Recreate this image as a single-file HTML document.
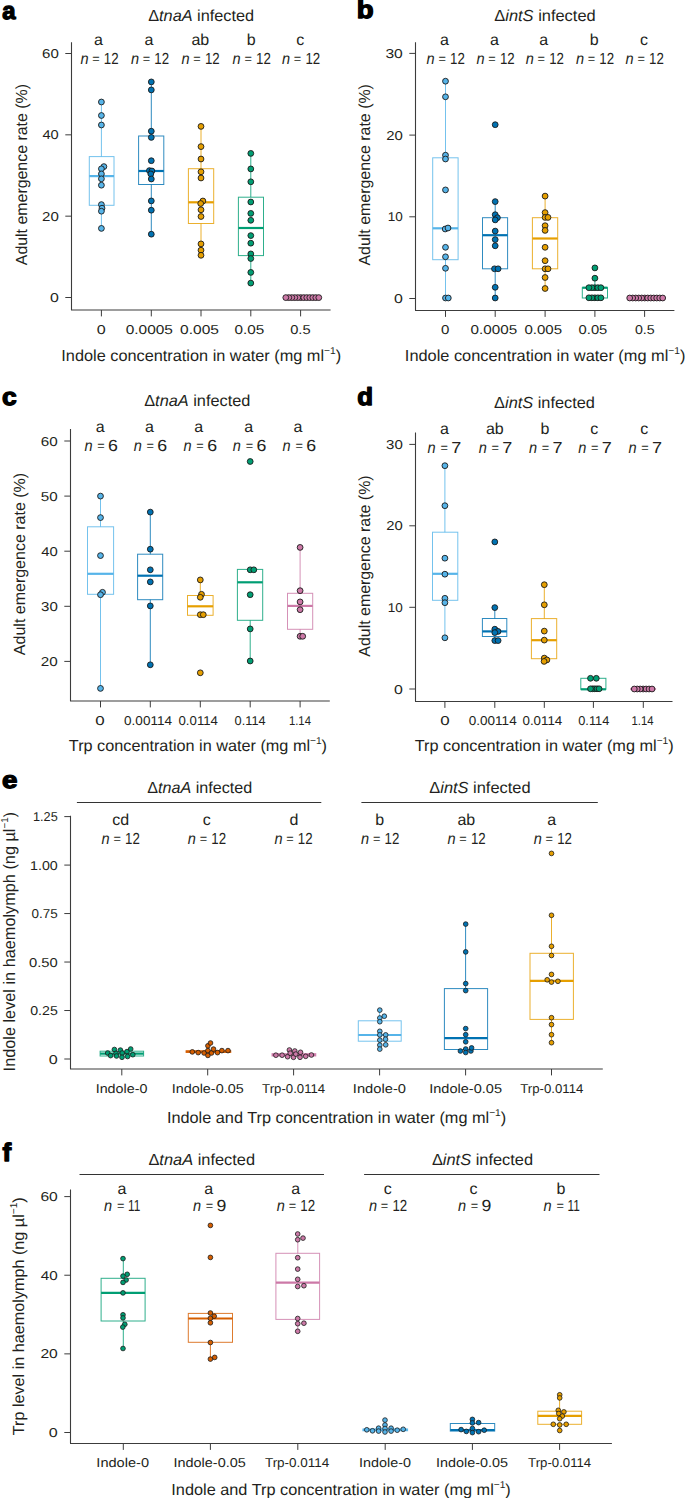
<!DOCTYPE html>
<html><head><meta charset="utf-8"><title>Figure</title>
<style>
html,body{margin:0;padding:0;background:#fff;}
body{width:685px;height:1498px;overflow:hidden;}
svg{display:block;font-family:"Liberation Sans", sans-serif;text-rendering:geometricPrecision;}

</style></head>
<body>
<svg width="685" height="1498" viewBox="0 0 685 1498" fill="#231f20">
<rect width="685" height="1498" fill="#fff"/>
<text x="2.15" y="18.51" font-size="24.28" font-weight="bold" fill="#000" stroke="#000" stroke-width="1.3" stroke-linejoin="round" textLength="13.25" lengthAdjust="spacingAndGlyphs">a</text>
<text x="148.21" y="20.60" font-size="16" textLength="105.93" lengthAdjust="spacingAndGlyphs">Δ<tspan font-style="italic">tnaA</tspan> infected</text>
<text x="94.11" y="44.90" font-size="16">a</text>
<text x="80.41" y="63.80" font-size="16" textLength="8.10" lengthAdjust="spacingAndGlyphs"><tspan font-style="italic">n</tspan></text>
<text x="92.23" y="62.95" font-size="12.8" textLength="7.45" lengthAdjust="spacingAndGlyphs">=</text>
<text x="103.84" y="63.80" font-size="16" textLength="14.78" lengthAdjust="spacingAndGlyphs">12</text>
<text x="144.41" y="44.90" font-size="16">a</text>
<text x="130.91" y="63.80" font-size="16" textLength="8.10" lengthAdjust="spacingAndGlyphs"><tspan font-style="italic">n</tspan></text>
<text x="142.73" y="62.95" font-size="12.8" textLength="7.45" lengthAdjust="spacingAndGlyphs">=</text>
<text x="154.34" y="63.80" font-size="16" textLength="14.78" lengthAdjust="spacingAndGlyphs">12</text>
<text x="191.40" y="44.90" font-size="16">ab</text>
<text x="181.51" y="63.80" font-size="16" textLength="8.10" lengthAdjust="spacingAndGlyphs"><tspan font-style="italic">n</tspan></text>
<text x="193.33" y="62.95" font-size="12.8" textLength="7.45" lengthAdjust="spacingAndGlyphs">=</text>
<text x="204.94" y="63.80" font-size="16" textLength="14.78" lengthAdjust="spacingAndGlyphs">12</text>
<text x="246.67" y="44.90" font-size="16">b</text>
<text x="232.61" y="63.80" font-size="16" textLength="8.10" lengthAdjust="spacingAndGlyphs"><tspan font-style="italic">n</tspan></text>
<text x="244.43" y="62.95" font-size="12.8" textLength="7.45" lengthAdjust="spacingAndGlyphs">=</text>
<text x="256.04" y="63.80" font-size="16" textLength="14.78" lengthAdjust="spacingAndGlyphs">12</text>
<text x="296.37" y="44.90" font-size="16">c</text>
<text x="282.01" y="63.80" font-size="16" textLength="8.10" lengthAdjust="spacingAndGlyphs"><tspan font-style="italic">n</tspan></text>
<text x="293.83" y="62.95" font-size="12.8" textLength="7.45" lengthAdjust="spacingAndGlyphs">=</text>
<text x="305.44" y="63.80" font-size="16" textLength="14.78" lengthAdjust="spacingAndGlyphs">12</text>
<path d="M71.50,42.20 V310.00 H330.60" fill="none" stroke="#3c3c3c" stroke-width="1.1" stroke-linejoin="round"/>
<line x1="65.30" y1="53.50" x2="71.50" y2="53.50" stroke="#3c3c3c" stroke-width="1.0"/>
<text x="42.04" y="58.00" font-size="12.9" textLength="16.75" lengthAdjust="spacingAndGlyphs">60</text>
<line x1="65.30" y1="134.83" x2="71.50" y2="134.83" stroke="#3c3c3c" stroke-width="1.0"/>
<text x="42.46" y="139.33" font-size="12.9" textLength="16.31" lengthAdjust="spacingAndGlyphs">40</text>
<line x1="65.30" y1="216.17" x2="71.50" y2="216.17" stroke="#3c3c3c" stroke-width="1.0"/>
<text x="42.04" y="220.67" font-size="12.9" textLength="16.75" lengthAdjust="spacingAndGlyphs">20</text>
<line x1="65.30" y1="297.50" x2="71.50" y2="297.50" stroke="#3c3c3c" stroke-width="1.0"/>
<text x="49.98" y="302.00" font-size="12.9" textLength="8.84" lengthAdjust="spacingAndGlyphs">0</text>
<line x1="101.40" y1="310.00" x2="101.40" y2="316.40" stroke="#3c3c3c" stroke-width="1.0"/>
<text x="96.77" y="334.00" font-size="12.9" textLength="8.96" lengthAdjust="spacingAndGlyphs">0</text>
<line x1="151.30" y1="310.00" x2="151.30" y2="316.40" stroke="#3c3c3c" stroke-width="1.0"/>
<text x="125.70" y="334.00" font-size="12.9" textLength="47.25" lengthAdjust="spacingAndGlyphs">0.0005</text>
<line x1="201.00" y1="310.00" x2="201.00" y2="316.40" stroke="#3c3c3c" stroke-width="1.0"/>
<text x="180.09" y="334.00" font-size="12.9" textLength="38.86" lengthAdjust="spacingAndGlyphs">0.005</text>
<line x1="250.80" y1="310.00" x2="250.80" y2="316.40" stroke="#3c3c3c" stroke-width="1.0"/>
<text x="234.50" y="334.00" font-size="12.9" textLength="29.74" lengthAdjust="spacingAndGlyphs">0.05</text>
<line x1="300.60" y1="310.00" x2="300.60" y2="316.40" stroke="#3c3c3c" stroke-width="1.0"/>
<text x="290.23" y="334.00" font-size="12.9" textLength="20.39" lengthAdjust="spacingAndGlyphs">0.5</text>
<text x="61.30" y="361.20" font-size="16" textLength="279.82" lengthAdjust="spacingAndGlyphs">Indole concentration in water (mg ml<tspan font-size="10" dy="-6.90">−1</tspan><tspan dy="6.90">)</tspan></text>
<text transform="translate(27.10,0) rotate(-90)" x="-265.23" y="0" font-size="16" textLength="181.22" lengthAdjust="spacingAndGlyphs">Adult emergence rate (%)</text>
<g stroke="#56B4E9" fill="none" stroke-opacity="0.82">
<line x1="101.40" y1="102.00" x2="101.40" y2="156.60" stroke-width="1.0"/>
<line x1="101.40" y1="205.30" x2="101.40" y2="228.40" stroke-width="1.0"/>
<rect x="89.30" y="156.60" width="24.70" height="48.70" stroke-width="1.0"/>
</g>
<line x1="89.30" y1="176.10" x2="114.00" y2="176.10" stroke="#56B4E9" stroke-width="2.2"/>
<circle cx="101.40" cy="102.00" r="2.9" fill="#56B4E9" stroke="#1a1a1a" stroke-width="0.9"/>
<circle cx="101.40" cy="115.50" r="2.9" fill="#56B4E9" stroke="#1a1a1a" stroke-width="0.9"/>
<circle cx="101.40" cy="125.00" r="2.9" fill="#56B4E9" stroke="#1a1a1a" stroke-width="0.9"/>
<circle cx="103.90" cy="166.60" r="2.9" fill="#56B4E9" stroke="#1a1a1a" stroke-width="0.9"/>
<circle cx="101.40" cy="168.80" r="2.9" fill="#56B4E9" stroke="#1a1a1a" stroke-width="0.9"/>
<circle cx="101.40" cy="173.90" r="2.9" fill="#56B4E9" stroke="#1a1a1a" stroke-width="0.9"/>
<circle cx="101.40" cy="178.80" r="2.9" fill="#56B4E9" stroke="#1a1a1a" stroke-width="0.9"/>
<circle cx="101.40" cy="185.20" r="2.9" fill="#56B4E9" stroke="#1a1a1a" stroke-width="0.9"/>
<circle cx="101.40" cy="204.60" r="2.9" fill="#56B4E9" stroke="#1a1a1a" stroke-width="0.9"/>
<circle cx="102.00" cy="208.20" r="2.9" fill="#56B4E9" stroke="#1a1a1a" stroke-width="0.9"/>
<circle cx="101.40" cy="211.20" r="2.9" fill="#56B4E9" stroke="#1a1a1a" stroke-width="0.9"/>
<circle cx="101.40" cy="228.40" r="2.9" fill="#56B4E9" stroke="#1a1a1a" stroke-width="0.9"/>
<g stroke="#0072B2" fill="none" stroke-opacity="0.82">
<line x1="151.30" y1="81.90" x2="151.30" y2="136.00" stroke-width="1.0"/>
<line x1="151.30" y1="184.50" x2="151.30" y2="234.20" stroke-width="1.0"/>
<rect x="138.60" y="136.00" width="25.20" height="48.50" stroke-width="1.0"/>
</g>
<line x1="138.60" y1="171.00" x2="163.80" y2="171.00" stroke="#0072B2" stroke-width="2.2"/>
<circle cx="151.30" cy="81.90" r="2.9" fill="#0072B2" stroke="#1a1a1a" stroke-width="0.9"/>
<circle cx="151.30" cy="89.90" r="2.9" fill="#0072B2" stroke="#1a1a1a" stroke-width="0.9"/>
<circle cx="151.30" cy="131.20" r="2.9" fill="#0072B2" stroke="#1a1a1a" stroke-width="0.9"/>
<circle cx="151.30" cy="137.40" r="2.9" fill="#0072B2" stroke="#1a1a1a" stroke-width="0.9"/>
<circle cx="151.30" cy="160.70" r="2.9" fill="#0072B2" stroke="#1a1a1a" stroke-width="0.9"/>
<circle cx="149.40" cy="170.60" r="2.9" fill="#0072B2" stroke="#1a1a1a" stroke-width="0.9"/>
<circle cx="151.90" cy="171.00" r="2.9" fill="#0072B2" stroke="#1a1a1a" stroke-width="0.9"/>
<circle cx="150.80" cy="173.90" r="2.9" fill="#0072B2" stroke="#1a1a1a" stroke-width="0.9"/>
<circle cx="151.30" cy="179.00" r="2.9" fill="#0072B2" stroke="#1a1a1a" stroke-width="0.9"/>
<circle cx="151.30" cy="200.90" r="2.9" fill="#0072B2" stroke="#1a1a1a" stroke-width="0.9"/>
<circle cx="151.30" cy="210.20" r="2.9" fill="#0072B2" stroke="#1a1a1a" stroke-width="0.9"/>
<circle cx="151.30" cy="234.20" r="2.9" fill="#0072B2" stroke="#1a1a1a" stroke-width="0.9"/>
<g stroke="#E69F00" fill="none" stroke-opacity="0.82">
<line x1="201.00" y1="126.40" x2="201.00" y2="168.70" stroke-width="1.0"/>
<line x1="201.00" y1="223.50" x2="201.00" y2="255.30" stroke-width="1.0"/>
<rect x="188.40" y="168.70" width="25.30" height="54.80" stroke-width="1.0"/>
</g>
<line x1="188.40" y1="202.30" x2="213.70" y2="202.30" stroke="#E69F00" stroke-width="2.2"/>
<circle cx="201.00" cy="126.40" r="2.9" fill="#E69F00" stroke="#1a1a1a" stroke-width="0.9"/>
<circle cx="201.00" cy="146.60" r="2.9" fill="#E69F00" stroke="#1a1a1a" stroke-width="0.9"/>
<circle cx="201.00" cy="159.00" r="2.9" fill="#E69F00" stroke="#1a1a1a" stroke-width="0.9"/>
<circle cx="201.00" cy="171.80" r="2.9" fill="#E69F00" stroke="#1a1a1a" stroke-width="0.9"/>
<circle cx="201.00" cy="178.00" r="2.9" fill="#E69F00" stroke="#1a1a1a" stroke-width="0.9"/>
<circle cx="202.90" cy="201.00" r="2.9" fill="#E69F00" stroke="#1a1a1a" stroke-width="0.9"/>
<circle cx="200.70" cy="203.50" r="2.9" fill="#E69F00" stroke="#1a1a1a" stroke-width="0.9"/>
<circle cx="201.00" cy="209.80" r="2.9" fill="#E69F00" stroke="#1a1a1a" stroke-width="0.9"/>
<circle cx="201.00" cy="216.50" r="2.9" fill="#E69F00" stroke="#1a1a1a" stroke-width="0.9"/>
<circle cx="201.00" cy="243.90" r="2.9" fill="#E69F00" stroke="#1a1a1a" stroke-width="0.9"/>
<circle cx="201.00" cy="250.20" r="2.9" fill="#E69F00" stroke="#1a1a1a" stroke-width="0.9"/>
<circle cx="201.00" cy="255.30" r="2.9" fill="#E69F00" stroke="#1a1a1a" stroke-width="0.9"/>
<g stroke="#009E73" fill="none" stroke-opacity="0.82">
<line x1="250.80" y1="153.40" x2="250.80" y2="197.20" stroke-width="1.0"/>
<line x1="250.80" y1="255.60" x2="250.80" y2="283.10" stroke-width="1.0"/>
<rect x="238.40" y="197.20" width="25.10" height="58.40" stroke-width="1.0"/>
</g>
<line x1="238.40" y1="228.00" x2="263.50" y2="228.00" stroke="#009E73" stroke-width="2.2"/>
<circle cx="250.80" cy="153.40" r="2.9" fill="#009E73" stroke="#1a1a1a" stroke-width="0.9"/>
<circle cx="250.80" cy="168.90" r="2.9" fill="#009E73" stroke="#1a1a1a" stroke-width="0.9"/>
<circle cx="250.80" cy="181.80" r="2.9" fill="#009E73" stroke="#1a1a1a" stroke-width="0.9"/>
<circle cx="250.80" cy="202.00" r="2.9" fill="#009E73" stroke="#1a1a1a" stroke-width="0.9"/>
<circle cx="250.80" cy="213.40" r="2.9" fill="#009E73" stroke="#1a1a1a" stroke-width="0.9"/>
<circle cx="250.80" cy="220.30" r="2.9" fill="#009E73" stroke="#1a1a1a" stroke-width="0.9"/>
<circle cx="250.80" cy="235.60" r="2.9" fill="#009E73" stroke="#1a1a1a" stroke-width="0.9"/>
<circle cx="250.80" cy="243.20" r="2.9" fill="#009E73" stroke="#1a1a1a" stroke-width="0.9"/>
<circle cx="250.80" cy="253.90" r="2.9" fill="#009E73" stroke="#1a1a1a" stroke-width="0.9"/>
<circle cx="250.80" cy="258.50" r="2.9" fill="#009E73" stroke="#1a1a1a" stroke-width="0.9"/>
<circle cx="250.80" cy="272.40" r="2.9" fill="#009E73" stroke="#1a1a1a" stroke-width="0.9"/>
<circle cx="250.80" cy="283.10" r="2.9" fill="#009E73" stroke="#1a1a1a" stroke-width="0.9"/>
<g stroke="#CC79A7" fill="none" stroke-opacity="0.82">
<rect x="288.00" y="297.60" width="25.20" height="0.01" stroke-width="1.0"/>
</g>
<line x1="288.00" y1="297.60" x2="313.20" y2="297.60" stroke="#CC79A7" stroke-width="2.2"/>
<circle cx="300.80" cy="297.60" r="2.9" fill="#CC79A7" stroke="#1a1a1a" stroke-width="0.9"/>
<circle cx="297.80" cy="297.60" r="2.9" fill="#CC79A7" stroke="#1a1a1a" stroke-width="0.9"/>
<circle cx="303.80" cy="297.60" r="2.9" fill="#CC79A7" stroke="#1a1a1a" stroke-width="0.9"/>
<circle cx="294.80" cy="297.60" r="2.9" fill="#CC79A7" stroke="#1a1a1a" stroke-width="0.9"/>
<circle cx="306.80" cy="297.60" r="2.9" fill="#CC79A7" stroke="#1a1a1a" stroke-width="0.9"/>
<circle cx="291.80" cy="297.60" r="2.9" fill="#CC79A7" stroke="#1a1a1a" stroke-width="0.9"/>
<circle cx="309.80" cy="297.60" r="2.9" fill="#CC79A7" stroke="#1a1a1a" stroke-width="0.9"/>
<circle cx="288.80" cy="297.60" r="2.9" fill="#CC79A7" stroke="#1a1a1a" stroke-width="0.9"/>
<circle cx="312.80" cy="297.60" r="2.9" fill="#CC79A7" stroke="#1a1a1a" stroke-width="0.9"/>
<circle cx="285.80" cy="297.60" r="2.9" fill="#CC79A7" stroke="#1a1a1a" stroke-width="0.9"/>
<circle cx="315.80" cy="297.60" r="2.9" fill="#CC79A7" stroke="#1a1a1a" stroke-width="0.9"/>
<circle cx="318.80" cy="297.60" r="2.9" fill="#CC79A7" stroke="#1a1a1a" stroke-width="0.9"/>
<text x="356.73" y="18.41" font-size="24.78" font-weight="bold" fill="#000" stroke="#000" stroke-width="1.3" stroke-linejoin="round" textLength="16.85" lengthAdjust="spacingAndGlyphs">b</text>
<text x="494.31" y="20.70" font-size="16" textLength="101.35" lengthAdjust="spacingAndGlyphs">Δ<tspan font-style="italic">intS</tspan> infected</text>
<text x="440.01" y="44.90" font-size="16">a</text>
<text x="426.61" y="63.80" font-size="16" textLength="8.10" lengthAdjust="spacingAndGlyphs"><tspan font-style="italic">n</tspan></text>
<text x="438.43" y="62.95" font-size="12.8" textLength="7.45" lengthAdjust="spacingAndGlyphs">=</text>
<text x="450.04" y="63.80" font-size="16" textLength="14.78" lengthAdjust="spacingAndGlyphs">12</text>
<text x="490.01" y="44.90" font-size="16">a</text>
<text x="476.51" y="63.80" font-size="16" textLength="8.10" lengthAdjust="spacingAndGlyphs"><tspan font-style="italic">n</tspan></text>
<text x="488.33" y="62.95" font-size="12.8" textLength="7.45" lengthAdjust="spacingAndGlyphs">=</text>
<text x="499.94" y="63.80" font-size="16" textLength="14.78" lengthAdjust="spacingAndGlyphs">12</text>
<text x="539.31" y="44.90" font-size="16">a</text>
<text x="525.71" y="63.80" font-size="16" textLength="8.10" lengthAdjust="spacingAndGlyphs"><tspan font-style="italic">n</tspan></text>
<text x="537.53" y="62.95" font-size="12.8" textLength="7.45" lengthAdjust="spacingAndGlyphs">=</text>
<text x="549.14" y="63.80" font-size="16" textLength="14.78" lengthAdjust="spacingAndGlyphs">12</text>
<text x="589.87" y="44.90" font-size="16">b</text>
<text x="575.91" y="63.80" font-size="16" textLength="8.10" lengthAdjust="spacingAndGlyphs"><tspan font-style="italic">n</tspan></text>
<text x="587.73" y="62.95" font-size="12.8" textLength="7.45" lengthAdjust="spacingAndGlyphs">=</text>
<text x="599.34" y="63.80" font-size="16" textLength="14.78" lengthAdjust="spacingAndGlyphs">12</text>
<text x="639.97" y="44.90" font-size="16">c</text>
<text x="625.61" y="63.80" font-size="16" textLength="8.10" lengthAdjust="spacingAndGlyphs"><tspan font-style="italic">n</tspan></text>
<text x="637.43" y="62.95" font-size="12.8" textLength="7.45" lengthAdjust="spacingAndGlyphs">=</text>
<text x="649.04" y="63.80" font-size="16" textLength="14.78" lengthAdjust="spacingAndGlyphs">12</text>
<path d="M415.50,42.20 V310.50 H674.40" fill="none" stroke="#3c3c3c" stroke-width="1.1" stroke-linejoin="round"/>
<line x1="409.30" y1="53.40" x2="415.50" y2="53.40" stroke="#3c3c3c" stroke-width="1.0"/>
<text x="385.40" y="57.90" font-size="12.9" textLength="17.41" lengthAdjust="spacingAndGlyphs">30</text>
<line x1="409.30" y1="135.10" x2="415.50" y2="135.10" stroke="#3c3c3c" stroke-width="1.0"/>
<text x="386.15" y="139.60" font-size="12.9" textLength="16.64" lengthAdjust="spacingAndGlyphs">20</text>
<line x1="409.30" y1="216.80" x2="415.50" y2="216.80" stroke="#3c3c3c" stroke-width="1.0"/>
<text x="387.67" y="221.30" font-size="12.9" textLength="15.06" lengthAdjust="spacingAndGlyphs">10</text>
<line x1="409.30" y1="298.50" x2="415.50" y2="298.50" stroke="#3c3c3c" stroke-width="1.0"/>
<text x="393.98" y="303.00" font-size="12.9" textLength="8.84" lengthAdjust="spacingAndGlyphs">0</text>
<line x1="445.50" y1="310.50" x2="445.50" y2="316.90" stroke="#3c3c3c" stroke-width="1.0"/>
<text x="441.01" y="334.00" font-size="12.9" textLength="8.38" lengthAdjust="spacingAndGlyphs">0</text>
<line x1="495.20" y1="310.50" x2="495.20" y2="316.90" stroke="#3c3c3c" stroke-width="1.0"/>
<text x="470.61" y="334.00" font-size="12.9" textLength="46.53" lengthAdjust="spacingAndGlyphs">0.0005</text>
<line x1="545.10" y1="310.50" x2="545.10" y2="316.90" stroke="#3c3c3c" stroke-width="1.0"/>
<text x="524.41" y="334.00" font-size="12.9" textLength="37.62" lengthAdjust="spacingAndGlyphs">0.005</text>
<line x1="594.90" y1="310.50" x2="594.90" y2="316.90" stroke="#3c3c3c" stroke-width="1.0"/>
<text x="578.62" y="334.00" font-size="12.9" textLength="28.70" lengthAdjust="spacingAndGlyphs">0.05</text>
<line x1="644.60" y1="310.50" x2="644.60" y2="316.90" stroke="#3c3c3c" stroke-width="1.0"/>
<text x="634.94" y="334.00" font-size="12.9" textLength="19.75" lengthAdjust="spacingAndGlyphs">0.5</text>
<text x="404.89" y="361.20" font-size="16" textLength="280.52" lengthAdjust="spacingAndGlyphs">Indole concentration in water (mg ml<tspan font-size="10" dy="-6.90">−1</tspan><tspan dy="6.90">)</tspan></text>
<text transform="translate(370.20,0) rotate(-90)" x="-265.53" y="0" font-size="16" textLength="181.42" lengthAdjust="spacingAndGlyphs">Adult emergence rate (%)</text>
<g stroke="#56B4E9" fill="none" stroke-opacity="0.82">
<line x1="445.50" y1="81.20" x2="445.50" y2="157.80" stroke-width="1.0"/>
<line x1="445.50" y1="259.70" x2="445.50" y2="298.00" stroke-width="1.0"/>
<rect x="432.70" y="157.80" width="25.40" height="101.90" stroke-width="1.0"/>
</g>
<line x1="432.70" y1="228.30" x2="458.10" y2="228.30" stroke="#56B4E9" stroke-width="2.2"/>
<circle cx="445.50" cy="81.20" r="2.9" fill="#56B4E9" stroke="#1a1a1a" stroke-width="0.9"/>
<circle cx="445.50" cy="96.80" r="2.9" fill="#56B4E9" stroke="#1a1a1a" stroke-width="0.9"/>
<circle cx="445.50" cy="155.20" r="2.9" fill="#56B4E9" stroke="#1a1a1a" stroke-width="0.9"/>
<circle cx="445.50" cy="159.00" r="2.9" fill="#56B4E9" stroke="#1a1a1a" stroke-width="0.9"/>
<circle cx="445.50" cy="189.90" r="2.9" fill="#56B4E9" stroke="#1a1a1a" stroke-width="0.9"/>
<circle cx="445.20" cy="229.00" r="2.9" fill="#56B4E9" stroke="#1a1a1a" stroke-width="0.9"/>
<circle cx="448.00" cy="228.00" r="2.9" fill="#56B4E9" stroke="#1a1a1a" stroke-width="0.9"/>
<circle cx="445.50" cy="247.30" r="2.9" fill="#56B4E9" stroke="#1a1a1a" stroke-width="0.9"/>
<circle cx="445.50" cy="256.80" r="2.9" fill="#56B4E9" stroke="#1a1a1a" stroke-width="0.9"/>
<circle cx="445.50" cy="268.30" r="2.9" fill="#56B4E9" stroke="#1a1a1a" stroke-width="0.9"/>
<circle cx="445.50" cy="298.00" r="2.9" fill="#56B4E9" stroke="#1a1a1a" stroke-width="0.9"/>
<circle cx="448.30" cy="298.00" r="2.9" fill="#56B4E9" stroke="#1a1a1a" stroke-width="0.9"/>
<g stroke="#0072B2" fill="none" stroke-opacity="0.82">
<line x1="495.20" y1="201.60" x2="495.20" y2="217.70" stroke-width="1.0"/>
<line x1="495.20" y1="268.80" x2="495.20" y2="298.00" stroke-width="1.0"/>
<rect x="482.50" y="217.70" width="25.10" height="51.10" stroke-width="1.0"/>
</g>
<line x1="482.50" y1="235.20" x2="507.60" y2="235.20" stroke="#0072B2" stroke-width="2.2"/>
<circle cx="495.20" cy="124.70" r="2.9" fill="#0072B2" stroke="#1a1a1a" stroke-width="0.9"/>
<circle cx="495.20" cy="201.60" r="2.9" fill="#0072B2" stroke="#1a1a1a" stroke-width="0.9"/>
<circle cx="495.20" cy="214.70" r="2.9" fill="#0072B2" stroke="#1a1a1a" stroke-width="0.9"/>
<circle cx="497.40" cy="217.70" r="2.9" fill="#0072B2" stroke="#1a1a1a" stroke-width="0.9"/>
<circle cx="495.20" cy="219.90" r="2.9" fill="#0072B2" stroke="#1a1a1a" stroke-width="0.9"/>
<circle cx="495.20" cy="231.10" r="2.9" fill="#0072B2" stroke="#1a1a1a" stroke-width="0.9"/>
<circle cx="495.20" cy="239.60" r="2.9" fill="#0072B2" stroke="#1a1a1a" stroke-width="0.9"/>
<circle cx="495.20" cy="245.80" r="2.9" fill="#0072B2" stroke="#1a1a1a" stroke-width="0.9"/>
<circle cx="494.50" cy="268.80" r="2.9" fill="#0072B2" stroke="#1a1a1a" stroke-width="0.9"/>
<circle cx="498.10" cy="268.80" r="2.9" fill="#0072B2" stroke="#1a1a1a" stroke-width="0.9"/>
<circle cx="495.20" cy="287.30" r="2.9" fill="#0072B2" stroke="#1a1a1a" stroke-width="0.9"/>
<circle cx="495.20" cy="298.00" r="2.9" fill="#0072B2" stroke="#1a1a1a" stroke-width="0.9"/>
<g stroke="#E69F00" fill="none" stroke-opacity="0.82">
<line x1="545.10" y1="196.10" x2="545.10" y2="217.70" stroke-width="1.0"/>
<line x1="545.10" y1="268.80" x2="545.10" y2="288.50" stroke-width="1.0"/>
<rect x="532.40" y="217.70" width="25.30" height="51.10" stroke-width="1.0"/>
</g>
<line x1="532.40" y1="238.50" x2="557.70" y2="238.50" stroke="#E69F00" stroke-width="2.2"/>
<circle cx="545.10" cy="196.10" r="2.9" fill="#E69F00" stroke="#1a1a1a" stroke-width="0.9"/>
<circle cx="545.10" cy="212.60" r="2.9" fill="#E69F00" stroke="#1a1a1a" stroke-width="0.9"/>
<circle cx="545.10" cy="217.40" r="2.9" fill="#E69F00" stroke="#1a1a1a" stroke-width="0.9"/>
<circle cx="548.00" cy="217.40" r="2.9" fill="#E69F00" stroke="#1a1a1a" stroke-width="0.9"/>
<circle cx="545.10" cy="225.70" r="2.9" fill="#E69F00" stroke="#1a1a1a" stroke-width="0.9"/>
<circle cx="545.10" cy="230.40" r="2.9" fill="#E69F00" stroke="#1a1a1a" stroke-width="0.9"/>
<circle cx="545.10" cy="247.30" r="2.9" fill="#E69F00" stroke="#1a1a1a" stroke-width="0.9"/>
<circle cx="545.10" cy="260.70" r="2.9" fill="#E69F00" stroke="#1a1a1a" stroke-width="0.9"/>
<circle cx="545.10" cy="268.80" r="2.9" fill="#E69F00" stroke="#1a1a1a" stroke-width="0.9"/>
<circle cx="548.00" cy="268.80" r="2.9" fill="#E69F00" stroke="#1a1a1a" stroke-width="0.9"/>
<circle cx="545.10" cy="277.50" r="2.9" fill="#E69F00" stroke="#1a1a1a" stroke-width="0.9"/>
<circle cx="545.10" cy="288.50" r="2.9" fill="#E69F00" stroke="#1a1a1a" stroke-width="0.9"/>
<g stroke="#009E73" fill="none" stroke-opacity="0.82">
<line x1="594.90" y1="278.20" x2="594.90" y2="287.70" stroke-width="1.0"/>
<rect x="582.30" y="287.70" width="25.20" height="10.30" stroke-width="1.0"/>
</g>
<line x1="582.30" y1="287.70" x2="607.50" y2="287.70" stroke="#009E73" stroke-width="2.2"/>
<circle cx="594.90" cy="267.90" r="2.9" fill="#009E73" stroke="#1a1a1a" stroke-width="0.9"/>
<circle cx="594.90" cy="278.20" r="2.9" fill="#009E73" stroke="#1a1a1a" stroke-width="0.9"/>
<circle cx="594.90" cy="297.80" r="2.9" fill="#009E73" stroke="#1a1a1a" stroke-width="0.9"/>
<circle cx="591.90" cy="297.80" r="2.9" fill="#009E73" stroke="#1a1a1a" stroke-width="0.9"/>
<circle cx="597.90" cy="297.80" r="2.9" fill="#009E73" stroke="#1a1a1a" stroke-width="0.9"/>
<circle cx="588.90" cy="297.80" r="2.9" fill="#009E73" stroke="#1a1a1a" stroke-width="0.9"/>
<circle cx="600.90" cy="297.80" r="2.9" fill="#009E73" stroke="#1a1a1a" stroke-width="0.9"/>
<circle cx="594.90" cy="287.70" r="2.9" fill="#009E73" stroke="#1a1a1a" stroke-width="0.9"/>
<circle cx="591.90" cy="287.70" r="2.9" fill="#009E73" stroke="#1a1a1a" stroke-width="0.9"/>
<circle cx="597.90" cy="287.70" r="2.9" fill="#009E73" stroke="#1a1a1a" stroke-width="0.9"/>
<circle cx="588.90" cy="287.70" r="2.9" fill="#009E73" stroke="#1a1a1a" stroke-width="0.9"/>
<circle cx="600.90" cy="287.70" r="2.9" fill="#009E73" stroke="#1a1a1a" stroke-width="0.9"/>
<g stroke="#CC79A7" fill="none" stroke-opacity="0.82">
<rect x="632.00" y="298.00" width="25.20" height="0.01" stroke-width="1.0"/>
</g>
<line x1="632.00" y1="298.00" x2="657.20" y2="298.00" stroke="#CC79A7" stroke-width="2.2"/>
<circle cx="644.70" cy="298.00" r="2.9" fill="#CC79A7" stroke="#1a1a1a" stroke-width="0.9"/>
<circle cx="641.70" cy="298.00" r="2.9" fill="#CC79A7" stroke="#1a1a1a" stroke-width="0.9"/>
<circle cx="647.70" cy="298.00" r="2.9" fill="#CC79A7" stroke="#1a1a1a" stroke-width="0.9"/>
<circle cx="638.70" cy="298.00" r="2.9" fill="#CC79A7" stroke="#1a1a1a" stroke-width="0.9"/>
<circle cx="650.70" cy="298.00" r="2.9" fill="#CC79A7" stroke="#1a1a1a" stroke-width="0.9"/>
<circle cx="635.70" cy="298.00" r="2.9" fill="#CC79A7" stroke="#1a1a1a" stroke-width="0.9"/>
<circle cx="653.70" cy="298.00" r="2.9" fill="#CC79A7" stroke="#1a1a1a" stroke-width="0.9"/>
<circle cx="632.70" cy="298.00" r="2.9" fill="#CC79A7" stroke="#1a1a1a" stroke-width="0.9"/>
<circle cx="656.70" cy="298.00" r="2.9" fill="#CC79A7" stroke="#1a1a1a" stroke-width="0.9"/>
<circle cx="629.70" cy="298.00" r="2.9" fill="#CC79A7" stroke="#1a1a1a" stroke-width="0.9"/>
<circle cx="659.70" cy="298.00" r="2.9" fill="#CC79A7" stroke="#1a1a1a" stroke-width="0.9"/>
<circle cx="662.70" cy="298.00" r="2.9" fill="#CC79A7" stroke="#1a1a1a" stroke-width="0.9"/>
<text x="2.02" y="404.71" font-size="24.46" font-weight="bold" fill="#000" stroke="#000" stroke-width="1.3" stroke-linejoin="round" textLength="14.71" lengthAdjust="spacingAndGlyphs">c</text>
<text x="144.21" y="406.10" font-size="16" textLength="106.14" lengthAdjust="spacingAndGlyphs">Δ<tspan font-style="italic">tnaA</tspan> infected</text>
<text x="95.71" y="432.00" font-size="16">a</text>
<text x="84.41" y="450.70" font-size="16" textLength="8.10" lengthAdjust="spacingAndGlyphs"><tspan font-style="italic">n</tspan></text>
<text x="97.23" y="449.85" font-size="12.8" textLength="7.45" lengthAdjust="spacingAndGlyphs">=</text>
<text x="108.05" y="450.70" font-size="16" textLength="9.88" lengthAdjust="spacingAndGlyphs">6</text>
<text x="145.01" y="432.00" font-size="16">a</text>
<text x="133.71" y="450.70" font-size="16" textLength="8.10" lengthAdjust="spacingAndGlyphs"><tspan font-style="italic">n</tspan></text>
<text x="146.53" y="449.85" font-size="12.8" textLength="7.45" lengthAdjust="spacingAndGlyphs">=</text>
<text x="157.35" y="450.70" font-size="16" textLength="9.88" lengthAdjust="spacingAndGlyphs">6</text>
<text x="194.31" y="432.00" font-size="16">a</text>
<text x="183.51" y="450.70" font-size="16" textLength="8.10" lengthAdjust="spacingAndGlyphs"><tspan font-style="italic">n</tspan></text>
<text x="196.33" y="449.85" font-size="12.8" textLength="7.45" lengthAdjust="spacingAndGlyphs">=</text>
<text x="207.15" y="450.70" font-size="16" textLength="9.88" lengthAdjust="spacingAndGlyphs">6</text>
<text x="244.31" y="432.00" font-size="16">a</text>
<text x="232.81" y="450.70" font-size="16" textLength="8.10" lengthAdjust="spacingAndGlyphs"><tspan font-style="italic">n</tspan></text>
<text x="245.63" y="449.85" font-size="12.8" textLength="7.45" lengthAdjust="spacingAndGlyphs">=</text>
<text x="256.45" y="450.70" font-size="16" textLength="9.88" lengthAdjust="spacingAndGlyphs">6</text>
<text x="293.61" y="432.00" font-size="16">a</text>
<text x="282.61" y="450.70" font-size="16" textLength="8.10" lengthAdjust="spacingAndGlyphs"><tspan font-style="italic">n</tspan></text>
<text x="295.43" y="449.85" font-size="12.8" textLength="7.45" lengthAdjust="spacingAndGlyphs">=</text>
<text x="306.25" y="450.70" font-size="16" textLength="9.88" lengthAdjust="spacingAndGlyphs">6</text>
<path d="M70.50,429.00 V701.00 H329.80" fill="none" stroke="#3c3c3c" stroke-width="1.1" stroke-linejoin="round"/>
<line x1="64.30" y1="441.00" x2="70.50" y2="441.00" stroke="#3c3c3c" stroke-width="1.0"/>
<text x="40.83" y="445.50" font-size="12.9" textLength="16.97" lengthAdjust="spacingAndGlyphs">60</text>
<line x1="64.30" y1="496.10" x2="70.50" y2="496.10" stroke="#3c3c3c" stroke-width="1.0"/>
<text x="40.89" y="500.60" font-size="12.9" textLength="16.90" lengthAdjust="spacingAndGlyphs">50</text>
<line x1="64.30" y1="551.20" x2="70.50" y2="551.20" stroke="#3c3c3c" stroke-width="1.0"/>
<text x="41.26" y="555.70" font-size="12.9" textLength="16.52" lengthAdjust="spacingAndGlyphs">40</text>
<line x1="64.30" y1="606.30" x2="70.50" y2="606.30" stroke="#3c3c3c" stroke-width="1.0"/>
<text x="41.03" y="610.80" font-size="12.9" textLength="16.76" lengthAdjust="spacingAndGlyphs">30</text>
<line x1="64.30" y1="661.40" x2="70.50" y2="661.40" stroke="#3c3c3c" stroke-width="1.0"/>
<text x="40.83" y="665.90" font-size="12.9" textLength="16.96" lengthAdjust="spacingAndGlyphs">20</text>
<line x1="100.50" y1="701.00" x2="100.50" y2="707.40" stroke="#3c3c3c" stroke-width="1.0"/>
<text x="95.34" y="725.00" font-size="12.9" textLength="9.42" lengthAdjust="spacingAndGlyphs">0</text>
<line x1="150.30" y1="701.00" x2="150.30" y2="707.40" stroke="#3c3c3c" stroke-width="1.0"/>
<text x="124.08" y="725.00" font-size="12.9" textLength="47.91" lengthAdjust="spacingAndGlyphs">0.00114</text>
<line x1="200.30" y1="701.00" x2="200.30" y2="707.40" stroke="#3c3c3c" stroke-width="1.0"/>
<text x="178.50" y="725.00" font-size="12.9" textLength="39.48" lengthAdjust="spacingAndGlyphs">0.0114</text>
<line x1="250.20" y1="701.00" x2="250.20" y2="707.40" stroke="#3c3c3c" stroke-width="1.0"/>
<text x="234.62" y="725.00" font-size="12.9" textLength="31.05" lengthAdjust="spacingAndGlyphs">0.114</text>
<line x1="300.10" y1="701.00" x2="300.10" y2="707.40" stroke="#3c3c3c" stroke-width="1.0"/>
<text x="288.94" y="725.00" font-size="12.9" textLength="21.99" lengthAdjust="spacingAndGlyphs">1.14</text>
<text x="68.84" y="750.90" font-size="16" textLength="258.17" lengthAdjust="spacingAndGlyphs">Trp concentration in water (mg ml<tspan font-size="10" dy="-6.90">−1</tspan><tspan dy="6.90">)</tspan></text>
<text transform="translate(24.80,0) rotate(-90)" x="-655.13" y="0" font-size="16" textLength="182.22" lengthAdjust="spacingAndGlyphs">Adult emergence rate (%)</text>
<g stroke="#56B4E9" fill="none" stroke-opacity="0.82">
<line x1="100.50" y1="496.10" x2="100.50" y2="526.80" stroke-width="1.0"/>
<line x1="100.50" y1="594.30" x2="100.50" y2="688.40" stroke-width="1.0"/>
<rect x="87.50" y="526.80" width="26.10" height="67.50" stroke-width="1.0"/>
</g>
<line x1="87.50" y1="573.80" x2="113.60" y2="573.80" stroke="#56B4E9" stroke-width="2.2"/>
<circle cx="100.50" cy="496.10" r="2.9" fill="#56B4E9" stroke="#1a1a1a" stroke-width="0.9"/>
<circle cx="100.50" cy="517.60" r="2.9" fill="#56B4E9" stroke="#1a1a1a" stroke-width="0.9"/>
<circle cx="100.50" cy="555.60" r="2.9" fill="#56B4E9" stroke="#1a1a1a" stroke-width="0.9"/>
<circle cx="102.50" cy="592.30" r="2.9" fill="#56B4E9" stroke="#1a1a1a" stroke-width="0.9"/>
<circle cx="100.50" cy="594.70" r="2.9" fill="#56B4E9" stroke="#1a1a1a" stroke-width="0.9"/>
<circle cx="100.50" cy="688.40" r="2.9" fill="#56B4E9" stroke="#1a1a1a" stroke-width="0.9"/>
<g stroke="#0072B2" fill="none" stroke-opacity="0.82">
<line x1="150.30" y1="512.10" x2="150.30" y2="554.20" stroke-width="1.0"/>
<line x1="150.30" y1="599.70" x2="150.30" y2="664.80" stroke-width="1.0"/>
<rect x="137.60" y="554.20" width="25.10" height="45.50" stroke-width="1.0"/>
</g>
<line x1="137.60" y1="575.70" x2="162.70" y2="575.70" stroke="#0072B2" stroke-width="2.2"/>
<circle cx="150.30" cy="512.10" r="2.9" fill="#0072B2" stroke="#1a1a1a" stroke-width="0.9"/>
<circle cx="150.30" cy="549.20" r="2.9" fill="#0072B2" stroke="#1a1a1a" stroke-width="0.9"/>
<circle cx="150.30" cy="569.80" r="2.9" fill="#0072B2" stroke="#1a1a1a" stroke-width="0.9"/>
<circle cx="150.30" cy="581.90" r="2.9" fill="#0072B2" stroke="#1a1a1a" stroke-width="0.9"/>
<circle cx="150.30" cy="605.90" r="2.9" fill="#0072B2" stroke="#1a1a1a" stroke-width="0.9"/>
<circle cx="150.30" cy="664.80" r="2.9" fill="#0072B2" stroke="#1a1a1a" stroke-width="0.9"/>
<g stroke="#E69F00" fill="none" stroke-opacity="0.82">
<line x1="200.30" y1="579.90" x2="200.30" y2="595.50" stroke-width="1.0"/>
<rect x="187.50" y="595.50" width="25.60" height="19.80" stroke-width="1.0"/>
</g>
<line x1="187.50" y1="606.30" x2="213.10" y2="606.30" stroke="#E69F00" stroke-width="2.2"/>
<circle cx="200.30" cy="579.90" r="2.9" fill="#E69F00" stroke="#1a1a1a" stroke-width="0.9"/>
<circle cx="201.50" cy="594.30" r="2.9" fill="#E69F00" stroke="#1a1a1a" stroke-width="0.9"/>
<circle cx="200.30" cy="597.30" r="2.9" fill="#E69F00" stroke="#1a1a1a" stroke-width="0.9"/>
<circle cx="200.30" cy="614.70" r="2.9" fill="#E69F00" stroke="#1a1a1a" stroke-width="0.9"/>
<circle cx="203.30" cy="614.70" r="2.9" fill="#E69F00" stroke="#1a1a1a" stroke-width="0.9"/>
<circle cx="200.30" cy="672.80" r="2.9" fill="#E69F00" stroke="#1a1a1a" stroke-width="0.9"/>
<g stroke="#009E73" fill="none" stroke-opacity="0.82">
<line x1="250.20" y1="620.30" x2="250.20" y2="661.00" stroke-width="1.0"/>
<rect x="237.40" y="569.40" width="25.30" height="50.90" stroke-width="1.0"/>
</g>
<line x1="237.40" y1="582.30" x2="262.70" y2="582.30" stroke="#009E73" stroke-width="2.2"/>
<circle cx="250.20" cy="461.50" r="2.9" fill="#009E73" stroke="#1a1a1a" stroke-width="0.9"/>
<circle cx="250.20" cy="569.80" r="2.9" fill="#009E73" stroke="#1a1a1a" stroke-width="0.9"/>
<circle cx="253.80" cy="569.80" r="2.9" fill="#009E73" stroke="#1a1a1a" stroke-width="0.9"/>
<circle cx="250.20" cy="594.70" r="2.9" fill="#009E73" stroke="#1a1a1a" stroke-width="0.9"/>
<circle cx="250.20" cy="628.90" r="2.9" fill="#009E73" stroke="#1a1a1a" stroke-width="0.9"/>
<circle cx="250.20" cy="661.00" r="2.9" fill="#009E73" stroke="#1a1a1a" stroke-width="0.9"/>
<g stroke="#CC79A7" fill="none" stroke-opacity="0.82">
<line x1="300.10" y1="547.40" x2="300.10" y2="593.30" stroke-width="1.0"/>
<line x1="300.10" y1="629.30" x2="300.10" y2="636.30" stroke-width="1.0"/>
<rect x="287.50" y="593.30" width="25.20" height="36.00" stroke-width="1.0"/>
</g>
<line x1="287.50" y1="605.90" x2="312.70" y2="605.90" stroke="#CC79A7" stroke-width="2.2"/>
<circle cx="300.10" cy="547.40" r="2.9" fill="#CC79A7" stroke="#1a1a1a" stroke-width="0.9"/>
<circle cx="300.10" cy="590.70" r="2.9" fill="#CC79A7" stroke="#1a1a1a" stroke-width="0.9"/>
<circle cx="300.10" cy="601.90" r="2.9" fill="#CC79A7" stroke="#1a1a1a" stroke-width="0.9"/>
<circle cx="300.10" cy="609.70" r="2.9" fill="#CC79A7" stroke="#1a1a1a" stroke-width="0.9"/>
<circle cx="300.10" cy="636.30" r="2.9" fill="#CC79A7" stroke="#1a1a1a" stroke-width="0.9"/>
<circle cx="302.70" cy="636.30" r="2.9" fill="#CC79A7" stroke="#1a1a1a" stroke-width="0.9"/>
<text x="357.39" y="404.51" font-size="24.78" font-weight="bold" fill="#000" stroke="#000" stroke-width="1.3" stroke-linejoin="round" textLength="15.76" lengthAdjust="spacingAndGlyphs">d</text>
<text x="494.11" y="407.80" font-size="16" textLength="100.84" lengthAdjust="spacingAndGlyphs">Δ<tspan font-style="italic">intS</tspan> infected</text>
<text x="440.01" y="434.00" font-size="16">a</text>
<text x="427.56" y="452.70" font-size="16" textLength="8.10" lengthAdjust="spacingAndGlyphs"><tspan font-style="italic">n</tspan></text>
<text x="440.38" y="451.85" font-size="12.8" textLength="7.45" lengthAdjust="spacingAndGlyphs">=</text>
<text x="451.18" y="452.70" font-size="16" textLength="10.03" lengthAdjust="spacingAndGlyphs">7</text>
<text x="485.90" y="434.00" font-size="16">ab</text>
<text x="478.71" y="452.70" font-size="16" textLength="8.10" lengthAdjust="spacingAndGlyphs"><tspan font-style="italic">n</tspan></text>
<text x="491.53" y="451.85" font-size="12.8" textLength="7.45" lengthAdjust="spacingAndGlyphs">=</text>
<text x="502.33" y="452.70" font-size="16" textLength="10.03" lengthAdjust="spacingAndGlyphs">7</text>
<text x="540.57" y="434.00" font-size="16">b</text>
<text x="528.91" y="452.70" font-size="16" textLength="8.10" lengthAdjust="spacingAndGlyphs"><tspan font-style="italic">n</tspan></text>
<text x="541.73" y="451.85" font-size="12.8" textLength="7.45" lengthAdjust="spacingAndGlyphs">=</text>
<text x="552.53" y="452.70" font-size="16" textLength="10.03" lengthAdjust="spacingAndGlyphs">7</text>
<text x="590.37" y="434.00" font-size="16">c</text>
<text x="578.21" y="452.70" font-size="16" textLength="8.10" lengthAdjust="spacingAndGlyphs"><tspan font-style="italic">n</tspan></text>
<text x="591.03" y="451.85" font-size="12.8" textLength="7.45" lengthAdjust="spacingAndGlyphs">=</text>
<text x="601.83" y="452.70" font-size="16" textLength="10.03" lengthAdjust="spacingAndGlyphs">7</text>
<text x="640.37" y="434.00" font-size="16">c</text>
<text x="628.41" y="452.70" font-size="16" textLength="8.10" lengthAdjust="spacingAndGlyphs"><tspan font-style="italic">n</tspan></text>
<text x="641.23" y="451.85" font-size="12.8" textLength="7.45" lengthAdjust="spacingAndGlyphs">=</text>
<text x="652.03" y="452.70" font-size="16" textLength="10.03" lengthAdjust="spacingAndGlyphs">7</text>
<path d="M415.50,432.40 V701.50 H672.50" fill="none" stroke="#3c3c3c" stroke-width="1.1" stroke-linejoin="round"/>
<line x1="409.30" y1="444.40" x2="415.50" y2="444.40" stroke="#3c3c3c" stroke-width="1.0"/>
<text x="386.03" y="448.90" font-size="12.9" textLength="16.76" lengthAdjust="spacingAndGlyphs">30</text>
<line x1="409.30" y1="525.80" x2="415.50" y2="525.80" stroke="#3c3c3c" stroke-width="1.0"/>
<text x="386.25" y="530.30" font-size="12.9" textLength="16.53" lengthAdjust="spacingAndGlyphs">20</text>
<line x1="409.30" y1="607.30" x2="415.50" y2="607.30" stroke="#3c3c3c" stroke-width="1.0"/>
<text x="387.67" y="611.80" font-size="12.9" textLength="15.06" lengthAdjust="spacingAndGlyphs">10</text>
<line x1="409.30" y1="689.00" x2="415.50" y2="689.00" stroke="#3c3c3c" stroke-width="1.0"/>
<text x="393.98" y="693.50" font-size="12.9" textLength="8.84" lengthAdjust="spacingAndGlyphs">0</text>
<line x1="444.90" y1="701.50" x2="444.90" y2="707.90" stroke="#3c3c3c" stroke-width="1.0"/>
<text x="440.34" y="725.00" font-size="12.9" textLength="9.42" lengthAdjust="spacingAndGlyphs">0</text>
<line x1="494.80" y1="701.50" x2="494.80" y2="707.90" stroke="#3c3c3c" stroke-width="1.0"/>
<text x="468.78" y="725.00" font-size="12.9" textLength="47.91" lengthAdjust="spacingAndGlyphs">0.00114</text>
<line x1="544.30" y1="701.50" x2="544.30" y2="707.90" stroke="#3c3c3c" stroke-width="1.0"/>
<text x="522.49" y="725.00" font-size="12.9" textLength="39.79" lengthAdjust="spacingAndGlyphs">0.0114</text>
<line x1="593.40" y1="701.50" x2="593.40" y2="707.90" stroke="#3c3c3c" stroke-width="1.0"/>
<text x="578.22" y="725.00" font-size="12.9" textLength="31.05" lengthAdjust="spacingAndGlyphs">0.114</text>
<line x1="643.30" y1="701.50" x2="643.30" y2="707.90" stroke="#3c3c3c" stroke-width="1.0"/>
<text x="631.54" y="725.00" font-size="12.9" textLength="22.10" lengthAdjust="spacingAndGlyphs">1.14</text>
<text x="414.74" y="750.90" font-size="16" textLength="258.97" lengthAdjust="spacingAndGlyphs">Trp concentration in water (mg ml<tspan font-size="10" dy="-6.90">−1</tspan><tspan dy="6.90">)</tspan></text>
<text transform="translate(369.80,0) rotate(-90)" x="-656.63" y="0" font-size="16" textLength="181.22" lengthAdjust="spacingAndGlyphs">Adult emergence rate (%)</text>
<g stroke="#56B4E9" fill="none" stroke-opacity="0.82">
<line x1="444.90" y1="465.70" x2="444.90" y2="532.20" stroke-width="1.0"/>
<line x1="444.90" y1="600.30" x2="444.90" y2="637.80" stroke-width="1.0"/>
<rect x="432.50" y="532.20" width="25.30" height="68.10" stroke-width="1.0"/>
</g>
<line x1="432.50" y1="573.80" x2="457.80" y2="573.80" stroke="#56B4E9" stroke-width="2.2"/>
<circle cx="444.90" cy="465.70" r="2.9" fill="#56B4E9" stroke="#1a1a1a" stroke-width="0.9"/>
<circle cx="444.90" cy="505.70" r="2.9" fill="#56B4E9" stroke="#1a1a1a" stroke-width="0.9"/>
<circle cx="444.90" cy="558.20" r="2.9" fill="#56B4E9" stroke="#1a1a1a" stroke-width="0.9"/>
<circle cx="444.90" cy="574.20" r="2.9" fill="#56B4E9" stroke="#1a1a1a" stroke-width="0.9"/>
<circle cx="444.90" cy="598.30" r="2.9" fill="#56B4E9" stroke="#1a1a1a" stroke-width="0.9"/>
<circle cx="444.90" cy="602.70" r="2.9" fill="#56B4E9" stroke="#1a1a1a" stroke-width="0.9"/>
<circle cx="444.90" cy="637.80" r="2.9" fill="#56B4E9" stroke="#1a1a1a" stroke-width="0.9"/>
<g stroke="#0072B2" fill="none" stroke-opacity="0.82">
<line x1="494.80" y1="607.60" x2="494.80" y2="618.50" stroke-width="1.0"/>
<line x1="494.80" y1="636.50" x2="494.80" y2="640.60" stroke-width="1.0"/>
<rect x="482.40" y="618.50" width="24.40" height="18.00" stroke-width="1.0"/>
</g>
<line x1="482.40" y1="631.40" x2="506.80" y2="631.40" stroke="#0072B2" stroke-width="2.2"/>
<circle cx="494.80" cy="541.90" r="2.9" fill="#0072B2" stroke="#1a1a1a" stroke-width="0.9"/>
<circle cx="494.80" cy="607.60" r="2.9" fill="#0072B2" stroke="#1a1a1a" stroke-width="0.9"/>
<circle cx="494.80" cy="629.20" r="2.9" fill="#0072B2" stroke="#1a1a1a" stroke-width="0.9"/>
<circle cx="498.00" cy="631.40" r="2.9" fill="#0072B2" stroke="#1a1a1a" stroke-width="0.9"/>
<circle cx="494.80" cy="632.60" r="2.9" fill="#0072B2" stroke="#1a1a1a" stroke-width="0.9"/>
<circle cx="494.80" cy="640.60" r="2.9" fill="#0072B2" stroke="#1a1a1a" stroke-width="0.9"/>
<circle cx="498.10" cy="640.60" r="2.9" fill="#0072B2" stroke="#1a1a1a" stroke-width="0.9"/>
<g stroke="#E69F00" fill="none" stroke-opacity="0.82">
<line x1="544.30" y1="584.70" x2="544.30" y2="618.60" stroke-width="1.0"/>
<line x1="544.30" y1="658.70" x2="544.30" y2="661.40" stroke-width="1.0"/>
<rect x="531.40" y="618.60" width="25.30" height="40.10" stroke-width="1.0"/>
</g>
<line x1="531.40" y1="640.20" x2="556.70" y2="640.20" stroke="#E69F00" stroke-width="2.2"/>
<circle cx="544.30" cy="584.70" r="2.9" fill="#E69F00" stroke="#1a1a1a" stroke-width="0.9"/>
<circle cx="544.30" cy="604.80" r="2.9" fill="#E69F00" stroke="#1a1a1a" stroke-width="0.9"/>
<circle cx="544.30" cy="631.10" r="2.9" fill="#E69F00" stroke="#1a1a1a" stroke-width="0.9"/>
<circle cx="544.30" cy="640.10" r="2.9" fill="#E69F00" stroke="#1a1a1a" stroke-width="0.9"/>
<circle cx="544.30" cy="658.10" r="2.9" fill="#E69F00" stroke="#1a1a1a" stroke-width="0.9"/>
<circle cx="546.90" cy="659.90" r="2.9" fill="#E69F00" stroke="#1a1a1a" stroke-width="0.9"/>
<circle cx="544.10" cy="661.40" r="2.9" fill="#E69F00" stroke="#1a1a1a" stroke-width="0.9"/>
<g stroke="#009E73" fill="none" stroke-opacity="0.82">
<rect x="580.80" y="678.30" width="25.10" height="11.00" stroke-width="1.0"/>
</g>
<line x1="580.80" y1="689.30" x2="605.90" y2="689.30" stroke="#009E73" stroke-width="2.2"/>
<circle cx="592.70" cy="688.80" r="2.9" fill="#009E73" stroke="#1a1a1a" stroke-width="0.9"/>
<circle cx="594.80" cy="688.80" r="2.9" fill="#009E73" stroke="#1a1a1a" stroke-width="0.9"/>
<circle cx="590.50" cy="688.80" r="2.9" fill="#009E73" stroke="#1a1a1a" stroke-width="0.9"/>
<circle cx="597.00" cy="688.80" r="2.9" fill="#009E73" stroke="#1a1a1a" stroke-width="0.9"/>
<circle cx="599.10" cy="688.80" r="2.9" fill="#009E73" stroke="#1a1a1a" stroke-width="0.9"/>
<circle cx="590.50" cy="678.30" r="2.9" fill="#009E73" stroke="#1a1a1a" stroke-width="0.9"/>
<circle cx="596.30" cy="678.30" r="2.9" fill="#009E73" stroke="#1a1a1a" stroke-width="0.9"/>
<g stroke="#CC79A7" fill="none" stroke-opacity="0.82">
<rect x="630.50" y="689.00" width="25.10" height="0.01" stroke-width="1.0"/>
</g>
<line x1="630.50" y1="689.00" x2="655.60" y2="689.00" stroke="#CC79A7" stroke-width="2.2"/>
<circle cx="643.15" cy="689.00" r="2.9" fill="#CC79A7" stroke="#1a1a1a" stroke-width="0.9"/>
<circle cx="646.10" cy="689.00" r="2.9" fill="#CC79A7" stroke="#1a1a1a" stroke-width="0.9"/>
<circle cx="640.20" cy="689.00" r="2.9" fill="#CC79A7" stroke="#1a1a1a" stroke-width="0.9"/>
<circle cx="649.05" cy="689.00" r="2.9" fill="#CC79A7" stroke="#1a1a1a" stroke-width="0.9"/>
<circle cx="637.25" cy="689.00" r="2.9" fill="#CC79A7" stroke="#1a1a1a" stroke-width="0.9"/>
<circle cx="652.00" cy="689.00" r="2.9" fill="#CC79A7" stroke="#1a1a1a" stroke-width="0.9"/>
<circle cx="634.30" cy="689.00" r="2.9" fill="#CC79A7" stroke="#1a1a1a" stroke-width="0.9"/>
<text x="1.97" y="787.72" font-size="23.91" font-weight="bold" fill="#000" stroke="#000" stroke-width="1.3" stroke-linejoin="round" textLength="15.43" lengthAdjust="spacingAndGlyphs">e</text>
<text x="147.32" y="793.30" font-size="16" textLength="104.92" lengthAdjust="spacingAndGlyphs">Δ<tspan font-style="italic">tnaA</tspan> infected</text>
<text x="429.31" y="793.00" font-size="16" textLength="101.25" lengthAdjust="spacingAndGlyphs">Δ<tspan font-style="italic">intS</tspan> infected</text>
<line x1="76.90" y1="802.50" x2="321.30" y2="802.50" stroke="#333" stroke-width="1.0"/>
<line x1="361.40" y1="802.50" x2="597.80" y2="802.50" stroke="#333" stroke-width="1.0"/>
<text x="112.23" y="825.20" font-size="16">cd</text>
<text x="101.61" y="843.80" font-size="16" textLength="8.10" lengthAdjust="spacingAndGlyphs"><tspan font-style="italic">n</tspan></text>
<text x="113.43" y="842.95" font-size="12.8" textLength="7.45" lengthAdjust="spacingAndGlyphs">=</text>
<text x="125.04" y="843.80" font-size="16" textLength="14.78" lengthAdjust="spacingAndGlyphs">12</text>
<text x="202.77" y="825.20" font-size="16">c</text>
<text x="187.81" y="843.80" font-size="16" textLength="8.10" lengthAdjust="spacingAndGlyphs"><tspan font-style="italic">n</tspan></text>
<text x="199.63" y="842.95" font-size="12.8" textLength="7.45" lengthAdjust="spacingAndGlyphs">=</text>
<text x="211.24" y="843.80" font-size="16" textLength="14.78" lengthAdjust="spacingAndGlyphs">12</text>
<text x="289.43" y="825.20" font-size="16">d</text>
<text x="274.41" y="843.80" font-size="16" textLength="8.10" lengthAdjust="spacingAndGlyphs"><tspan font-style="italic">n</tspan></text>
<text x="286.23" y="842.95" font-size="12.8" textLength="7.45" lengthAdjust="spacingAndGlyphs">=</text>
<text x="297.84" y="843.80" font-size="16" textLength="14.78" lengthAdjust="spacingAndGlyphs">12</text>
<text x="375.17" y="825.20" font-size="16">b</text>
<text x="361.11" y="843.80" font-size="16" textLength="8.10" lengthAdjust="spacingAndGlyphs"><tspan font-style="italic">n</tspan></text>
<text x="372.93" y="842.95" font-size="12.8" textLength="7.45" lengthAdjust="spacingAndGlyphs">=</text>
<text x="384.54" y="843.80" font-size="16" textLength="14.78" lengthAdjust="spacingAndGlyphs">12</text>
<text x="457.40" y="825.20" font-size="16">ab</text>
<text x="447.51" y="843.80" font-size="16" textLength="8.10" lengthAdjust="spacingAndGlyphs"><tspan font-style="italic">n</tspan></text>
<text x="459.33" y="842.95" font-size="12.8" textLength="7.45" lengthAdjust="spacingAndGlyphs">=</text>
<text x="470.94" y="843.80" font-size="16" textLength="14.78" lengthAdjust="spacingAndGlyphs">12</text>
<text x="547.31" y="825.20" font-size="16">a</text>
<text x="533.71" y="843.80" font-size="16" textLength="8.10" lengthAdjust="spacingAndGlyphs"><tspan font-style="italic">n</tspan></text>
<text x="545.53" y="842.95" font-size="12.8" textLength="7.45" lengthAdjust="spacingAndGlyphs">=</text>
<text x="557.14" y="843.80" font-size="16" textLength="14.78" lengthAdjust="spacingAndGlyphs">12</text>
<path d="M70.50,815.80 V1069.00 H602.80" fill="none" stroke="#3c3c3c" stroke-width="1.1" stroke-linejoin="round"/>
<line x1="64.30" y1="816.60" x2="70.50" y2="816.60" stroke="#3c3c3c" stroke-width="1.0"/>
<text x="33.03" y="821.10" font-size="12.9" textLength="24.70" lengthAdjust="spacingAndGlyphs">1.25</text>
<line x1="64.30" y1="865.08" x2="70.50" y2="865.08" stroke="#3c3c3c" stroke-width="1.0"/>
<text x="30.01" y="869.58" font-size="12.9" textLength="27.74" lengthAdjust="spacingAndGlyphs">1.00</text>
<line x1="64.30" y1="913.56" x2="70.50" y2="913.56" stroke="#3c3c3c" stroke-width="1.0"/>
<text x="31.57" y="918.06" font-size="12.9" textLength="26.19" lengthAdjust="spacingAndGlyphs">0.75</text>
<line x1="64.30" y1="962.04" x2="70.50" y2="962.04" stroke="#3c3c3c" stroke-width="1.0"/>
<text x="29.02" y="966.54" font-size="12.9" textLength="28.75" lengthAdjust="spacingAndGlyphs">0.50</text>
<line x1="64.30" y1="1010.52" x2="70.50" y2="1010.52" stroke="#3c3c3c" stroke-width="1.0"/>
<text x="30.25" y="1015.02" font-size="12.9" textLength="27.55" lengthAdjust="spacingAndGlyphs">0.25</text>
<line x1="64.30" y1="1059.00" x2="70.50" y2="1059.00" stroke="#3c3c3c" stroke-width="1.0"/>
<text x="48.87" y="1063.50" font-size="12.9" textLength="8.96" lengthAdjust="spacingAndGlyphs">0</text>
<line x1="121.80" y1="1069.00" x2="121.80" y2="1075.40" stroke="#3c3c3c" stroke-width="1.0"/>
<text x="95.68" y="1092.60" font-size="12.9" textLength="51.68" lengthAdjust="spacingAndGlyphs">Indole-0</text>
<line x1="207.70" y1="1069.00" x2="207.70" y2="1075.40" stroke="#3c3c3c" stroke-width="1.0"/>
<text x="171.67" y="1092.60" font-size="12.9" textLength="72.03" lengthAdjust="spacingAndGlyphs">Indole-0.05</text>
<line x1="293.60" y1="1069.00" x2="293.60" y2="1075.40" stroke="#3c3c3c" stroke-width="1.0"/>
<text x="262.11" y="1092.60" font-size="12.9" textLength="63.07" lengthAdjust="spacingAndGlyphs">Trp-0.0114</text>
<line x1="379.60" y1="1069.00" x2="379.60" y2="1075.40" stroke="#3c3c3c" stroke-width="1.0"/>
<text x="352.84" y="1092.60" font-size="12.9" textLength="53.13" lengthAdjust="spacingAndGlyphs">Indole-0</text>
<line x1="465.60" y1="1069.00" x2="465.60" y2="1075.40" stroke="#3c3c3c" stroke-width="1.0"/>
<text x="429.26" y="1092.60" font-size="12.9" textLength="72.75" lengthAdjust="spacingAndGlyphs">Indole-0.05</text>
<line x1="551.50" y1="1069.00" x2="551.50" y2="1075.40" stroke="#3c3c3c" stroke-width="1.0"/>
<text x="520.31" y="1092.60" font-size="12.9" textLength="63.07" lengthAdjust="spacingAndGlyphs">Trp-0.0114</text>
<text x="166.90" y="1122.80" font-size="16" textLength="339.31" lengthAdjust="spacingAndGlyphs">Indole and Trp concentration in water (mg ml<tspan font-size="10" dy="-6.90">−1</tspan><tspan dy="6.90">)</tspan></text>
<text transform="translate(14.80,0) rotate(-90)" x="-1071.40" y="0" font-size="16.6" textLength="259.28" lengthAdjust="spacingAndGlyphs">Indole level in haemolymph (ng µl<tspan font-size="10" dy="-6.90">−1</tspan><tspan font-size="16" dy="6.90">)</tspan></text>
<g stroke="#009E73" fill="none" stroke-opacity="0.82">
<rect x="100.10" y="1051.20" width="43.50" height="4.80" stroke-width="1.0"/>
</g>
<line x1="100.10" y1="1053.60" x2="143.60" y2="1053.60" stroke="#009E73" stroke-width="2.2"/>
<circle cx="107.70" cy="1053.00" r="2.35" fill="#009E73" stroke="#1a1a1a" stroke-width="0.8"/>
<circle cx="110.60" cy="1055.60" r="2.35" fill="#009E73" stroke="#1a1a1a" stroke-width="0.8"/>
<circle cx="114.40" cy="1049.50" r="2.35" fill="#009E73" stroke="#1a1a1a" stroke-width="0.8"/>
<circle cx="116.00" cy="1053.40" r="2.35" fill="#009E73" stroke="#1a1a1a" stroke-width="0.8"/>
<circle cx="116.50" cy="1056.00" r="2.35" fill="#009E73" stroke="#1a1a1a" stroke-width="0.8"/>
<circle cx="120.40" cy="1050.10" r="2.35" fill="#009E73" stroke="#1a1a1a" stroke-width="0.8"/>
<circle cx="122.20" cy="1053.00" r="2.35" fill="#009E73" stroke="#1a1a1a" stroke-width="0.8"/>
<circle cx="122.00" cy="1057.30" r="2.35" fill="#009E73" stroke="#1a1a1a" stroke-width="0.8"/>
<circle cx="127.00" cy="1051.60" r="2.35" fill="#009E73" stroke="#1a1a1a" stroke-width="0.8"/>
<circle cx="127.60" cy="1056.50" r="2.35" fill="#009E73" stroke="#1a1a1a" stroke-width="0.8"/>
<circle cx="130.70" cy="1049.00" r="2.35" fill="#009E73" stroke="#1a1a1a" stroke-width="0.8"/>
<circle cx="132.80" cy="1054.70" r="2.35" fill="#009E73" stroke="#1a1a1a" stroke-width="0.8"/>
<g stroke="#D55E00" fill="none" stroke-opacity="0.82">
<rect x="186.00" y="1050.80" width="44.80" height="1.60" stroke-width="1.0"/>
</g>
<line x1="186.00" y1="1051.60" x2="230.80" y2="1051.60" stroke="#D55E00" stroke-width="2.2"/>
<circle cx="192.30" cy="1051.90" r="2.35" fill="#D55E00" stroke="#1a1a1a" stroke-width="0.8"/>
<circle cx="198.20" cy="1052.60" r="2.35" fill="#D55E00" stroke="#1a1a1a" stroke-width="0.8"/>
<circle cx="204.10" cy="1053.00" r="2.35" fill="#D55E00" stroke="#1a1a1a" stroke-width="0.8"/>
<circle cx="207.90" cy="1055.40" r="2.35" fill="#D55E00" stroke="#1a1a1a" stroke-width="0.8"/>
<circle cx="207.90" cy="1050.60" r="2.35" fill="#D55E00" stroke="#1a1a1a" stroke-width="0.8"/>
<circle cx="207.90" cy="1045.80" r="2.35" fill="#D55E00" stroke="#1a1a1a" stroke-width="0.8"/>
<circle cx="210.50" cy="1043.00" r="2.35" fill="#D55E00" stroke="#1a1a1a" stroke-width="0.8"/>
<circle cx="211.50" cy="1053.00" r="2.35" fill="#D55E00" stroke="#1a1a1a" stroke-width="0.8"/>
<circle cx="213.50" cy="1049.10" r="2.35" fill="#D55E00" stroke="#1a1a1a" stroke-width="0.8"/>
<circle cx="217.50" cy="1052.60" r="2.35" fill="#D55E00" stroke="#1a1a1a" stroke-width="0.8"/>
<circle cx="221.90" cy="1050.60" r="2.35" fill="#D55E00" stroke="#1a1a1a" stroke-width="0.8"/>
<circle cx="228.00" cy="1050.60" r="2.35" fill="#D55E00" stroke="#1a1a1a" stroke-width="0.8"/>
<g stroke="#CC79A7" fill="none" stroke-opacity="0.82">
<rect x="272.00" y="1053.60" width="43.80" height="2.40" stroke-width="1.0"/>
</g>
<line x1="272.00" y1="1054.80" x2="315.80" y2="1054.80" stroke="#CC79A7" stroke-width="2.2"/>
<circle cx="275.90" cy="1055.20" r="2.35" fill="#CC79A7" stroke="#1a1a1a" stroke-width="0.8"/>
<circle cx="282.10" cy="1055.20" r="2.35" fill="#CC79A7" stroke="#1a1a1a" stroke-width="0.8"/>
<circle cx="287.60" cy="1056.70" r="2.35" fill="#CC79A7" stroke="#1a1a1a" stroke-width="0.8"/>
<circle cx="289.40" cy="1050.00" r="2.35" fill="#CC79A7" stroke="#1a1a1a" stroke-width="0.8"/>
<circle cx="290.20" cy="1053.20" r="2.35" fill="#CC79A7" stroke="#1a1a1a" stroke-width="0.8"/>
<circle cx="293.50" cy="1057.30" r="2.35" fill="#CC79A7" stroke="#1a1a1a" stroke-width="0.8"/>
<circle cx="294.80" cy="1051.00" r="2.35" fill="#CC79A7" stroke="#1a1a1a" stroke-width="0.8"/>
<circle cx="295.80" cy="1054.10" r="2.35" fill="#CC79A7" stroke="#1a1a1a" stroke-width="0.8"/>
<circle cx="300.50" cy="1052.30" r="2.35" fill="#CC79A7" stroke="#1a1a1a" stroke-width="0.8"/>
<circle cx="300.00" cy="1057.30" r="2.35" fill="#CC79A7" stroke="#1a1a1a" stroke-width="0.8"/>
<circle cx="305.70" cy="1056.30" r="2.35" fill="#CC79A7" stroke="#1a1a1a" stroke-width="0.8"/>
<circle cx="311.40" cy="1055.00" r="2.35" fill="#CC79A7" stroke="#1a1a1a" stroke-width="0.8"/>
<g stroke="#56B4E9" fill="none" stroke-opacity="0.82">
<line x1="379.60" y1="1010.10" x2="379.60" y2="1020.80" stroke-width="1.0"/>
<line x1="379.60" y1="1041.20" x2="379.60" y2="1049.10" stroke-width="1.0"/>
<rect x="358.30" y="1020.80" width="42.90" height="20.40" stroke-width="1.0"/>
</g>
<line x1="358.30" y1="1035.00" x2="401.20" y2="1035.00" stroke="#56B4E9" stroke-width="2.2"/>
<circle cx="379.80" cy="1010.10" r="2.35" fill="#56B4E9" stroke="#1a1a1a" stroke-width="0.8"/>
<circle cx="384.30" cy="1016.20" r="2.35" fill="#56B4E9" stroke="#1a1a1a" stroke-width="0.8"/>
<circle cx="379.80" cy="1018.00" r="2.35" fill="#56B4E9" stroke="#1a1a1a" stroke-width="0.8"/>
<circle cx="379.80" cy="1021.70" r="2.35" fill="#56B4E9" stroke="#1a1a1a" stroke-width="0.8"/>
<circle cx="379.80" cy="1031.30" r="2.35" fill="#56B4E9" stroke="#1a1a1a" stroke-width="0.8"/>
<circle cx="379.80" cy="1034.90" r="2.35" fill="#56B4E9" stroke="#1a1a1a" stroke-width="0.8"/>
<circle cx="385.70" cy="1034.90" r="2.35" fill="#56B4E9" stroke="#1a1a1a" stroke-width="0.8"/>
<circle cx="379.80" cy="1040.10" r="2.35" fill="#56B4E9" stroke="#1a1a1a" stroke-width="0.8"/>
<circle cx="385.50" cy="1039.20" r="2.35" fill="#56B4E9" stroke="#1a1a1a" stroke-width="0.8"/>
<circle cx="379.80" cy="1045.10" r="2.35" fill="#56B4E9" stroke="#1a1a1a" stroke-width="0.8"/>
<circle cx="385.70" cy="1044.80" r="2.35" fill="#56B4E9" stroke="#1a1a1a" stroke-width="0.8"/>
<circle cx="379.80" cy="1049.10" r="2.35" fill="#56B4E9" stroke="#1a1a1a" stroke-width="0.8"/>
<g stroke="#0072B2" fill="none" stroke-opacity="0.82">
<line x1="465.60" y1="924.10" x2="465.60" y2="988.60" stroke-width="1.0"/>
<line x1="465.60" y1="1049.50" x2="465.60" y2="1052.50" stroke-width="1.0"/>
<rect x="444.40" y="988.60" width="43.20" height="60.90" stroke-width="1.0"/>
</g>
<line x1="444.40" y1="1038.10" x2="487.60" y2="1038.10" stroke="#0072B2" stroke-width="2.2"/>
<circle cx="465.70" cy="924.10" r="2.35" fill="#0072B2" stroke="#1a1a1a" stroke-width="0.8"/>
<circle cx="465.70" cy="951.90" r="2.35" fill="#0072B2" stroke="#1a1a1a" stroke-width="0.8"/>
<circle cx="465.70" cy="983.60" r="2.35" fill="#0072B2" stroke="#1a1a1a" stroke-width="0.8"/>
<circle cx="465.70" cy="990.60" r="2.35" fill="#0072B2" stroke="#1a1a1a" stroke-width="0.8"/>
<circle cx="465.70" cy="1028.60" r="2.35" fill="#0072B2" stroke="#1a1a1a" stroke-width="0.8"/>
<circle cx="465.70" cy="1034.70" r="2.35" fill="#0072B2" stroke="#1a1a1a" stroke-width="0.8"/>
<circle cx="465.70" cy="1041.80" r="2.35" fill="#0072B2" stroke="#1a1a1a" stroke-width="0.8"/>
<circle cx="460.40" cy="1051.00" r="2.35" fill="#0072B2" stroke="#1a1a1a" stroke-width="0.8"/>
<circle cx="465.70" cy="1049.00" r="2.35" fill="#0072B2" stroke="#1a1a1a" stroke-width="0.8"/>
<circle cx="465.70" cy="1052.50" r="2.35" fill="#0072B2" stroke="#1a1a1a" stroke-width="0.8"/>
<circle cx="470.90" cy="1051.00" r="2.35" fill="#0072B2" stroke="#1a1a1a" stroke-width="0.8"/>
<circle cx="471.60" cy="1047.90" r="2.35" fill="#0072B2" stroke="#1a1a1a" stroke-width="0.8"/>
<g stroke="#E69F00" fill="none" stroke-opacity="0.82">
<line x1="551.50" y1="915.30" x2="551.50" y2="953.30" stroke-width="1.0"/>
<line x1="551.50" y1="1019.40" x2="551.50" y2="1042.70" stroke-width="1.0"/>
<rect x="530.00" y="953.30" width="43.40" height="66.10" stroke-width="1.0"/>
</g>
<line x1="530.00" y1="980.80" x2="573.40" y2="980.80" stroke="#E69F00" stroke-width="2.2"/>
<circle cx="551.50" cy="853.40" r="2.35" fill="#E69F00" stroke="#1a1a1a" stroke-width="0.8"/>
<circle cx="551.50" cy="915.30" r="2.35" fill="#E69F00" stroke="#1a1a1a" stroke-width="0.8"/>
<circle cx="551.50" cy="946.30" r="2.35" fill="#E69F00" stroke="#1a1a1a" stroke-width="0.8"/>
<circle cx="551.50" cy="955.50" r="2.35" fill="#E69F00" stroke="#1a1a1a" stroke-width="0.8"/>
<circle cx="551.50" cy="974.40" r="2.35" fill="#E69F00" stroke="#1a1a1a" stroke-width="0.8"/>
<circle cx="547.20" cy="979.80" r="2.35" fill="#E69F00" stroke="#1a1a1a" stroke-width="0.8"/>
<circle cx="551.50" cy="982.10" r="2.35" fill="#E69F00" stroke="#1a1a1a" stroke-width="0.8"/>
<circle cx="557.90" cy="981.30" r="2.35" fill="#E69F00" stroke="#1a1a1a" stroke-width="0.8"/>
<circle cx="551.50" cy="1017.70" r="2.35" fill="#E69F00" stroke="#1a1a1a" stroke-width="0.8"/>
<circle cx="551.50" cy="1024.60" r="2.35" fill="#E69F00" stroke="#1a1a1a" stroke-width="0.8"/>
<circle cx="551.50" cy="1034.70" r="2.35" fill="#E69F00" stroke="#1a1a1a" stroke-width="0.8"/>
<circle cx="551.50" cy="1042.70" r="2.35" fill="#E69F00" stroke="#1a1a1a" stroke-width="0.8"/>
<text x="2.40" y="1161.05" font-size="25.39" font-weight="bold" fill="#000" stroke="#000" stroke-width="1.3" stroke-linejoin="round" textLength="8.70" lengthAdjust="spacingAndGlyphs">f</text>
<text x="148.41" y="1165.40" font-size="16" textLength="106.64" lengthAdjust="spacingAndGlyphs">Δ<tspan font-style="italic">tnaA</tspan> infected</text>
<text x="431.91" y="1165.40" font-size="16" textLength="101.14" lengthAdjust="spacingAndGlyphs">Δ<tspan font-style="italic">intS</tspan> infected</text>
<line x1="79.50" y1="1174.50" x2="324.00" y2="1174.50" stroke="#333" stroke-width="1.0"/>
<line x1="364.10" y1="1174.50" x2="599.50" y2="1174.50" stroke="#333" stroke-width="1.0"/>
<text x="117.41" y="1193.50" font-size="16">a</text>
<text x="104.06" y="1210.70" font-size="16" textLength="8.10" lengthAdjust="spacingAndGlyphs"><tspan font-style="italic">n</tspan></text>
<text x="117.08" y="1209.85" font-size="12.8" textLength="7.45" lengthAdjust="spacingAndGlyphs">=</text>
<text x="128.06" y="1210.70" font-size="16" textLength="12.28" lengthAdjust="spacingAndGlyphs">11</text>
<text x="204.31" y="1193.50" font-size="16">a</text>
<text x="192.91" y="1210.70" font-size="16" textLength="8.10" lengthAdjust="spacingAndGlyphs"><tspan font-style="italic">n</tspan></text>
<text x="205.73" y="1209.85" font-size="12.8" textLength="7.45" lengthAdjust="spacingAndGlyphs">=</text>
<text x="216.62" y="1210.70" font-size="16" textLength="9.87" lengthAdjust="spacingAndGlyphs">9</text>
<text x="291.21" y="1193.50" font-size="16">a</text>
<text x="276.81" y="1210.70" font-size="16" textLength="8.10" lengthAdjust="spacingAndGlyphs"><tspan font-style="italic">n</tspan></text>
<text x="288.63" y="1209.85" font-size="12.8" textLength="7.45" lengthAdjust="spacingAndGlyphs">=</text>
<text x="300.24" y="1210.70" font-size="16" textLength="14.78" lengthAdjust="spacingAndGlyphs">12</text>
<text x="383.67" y="1193.50" font-size="16">c</text>
<text x="369.01" y="1210.70" font-size="16" textLength="8.10" lengthAdjust="spacingAndGlyphs"><tspan font-style="italic">n</tspan></text>
<text x="380.83" y="1209.85" font-size="12.8" textLength="7.45" lengthAdjust="spacingAndGlyphs">=</text>
<text x="392.44" y="1210.70" font-size="16" textLength="14.78" lengthAdjust="spacingAndGlyphs">12</text>
<text x="469.47" y="1193.50" font-size="16">c</text>
<text x="457.91" y="1210.70" font-size="16" textLength="8.10" lengthAdjust="spacingAndGlyphs"><tspan font-style="italic">n</tspan></text>
<text x="470.73" y="1209.85" font-size="12.8" textLength="7.45" lengthAdjust="spacingAndGlyphs">=</text>
<text x="481.62" y="1210.70" font-size="16" textLength="9.87" lengthAdjust="spacingAndGlyphs">9</text>
<text x="556.57" y="1193.50" font-size="16">b</text>
<text x="543.46" y="1210.70" font-size="16" textLength="8.10" lengthAdjust="spacingAndGlyphs"><tspan font-style="italic">n</tspan></text>
<text x="556.48" y="1209.85" font-size="12.8" textLength="7.45" lengthAdjust="spacingAndGlyphs">=</text>
<text x="567.46" y="1210.70" font-size="16" textLength="12.28" lengthAdjust="spacingAndGlyphs">11</text>
<path d="M70.50,1189.40 V1443.50 H611.90" fill="none" stroke="#3c3c3c" stroke-width="1.1" stroke-linejoin="round"/>
<line x1="64.30" y1="1196.60" x2="70.50" y2="1196.60" stroke="#3c3c3c" stroke-width="1.0"/>
<text x="40.41" y="1201.10" font-size="12.9" textLength="17.41" lengthAdjust="spacingAndGlyphs">60</text>
<line x1="64.30" y1="1275.23" x2="70.50" y2="1275.23" stroke="#3c3c3c" stroke-width="1.0"/>
<text x="40.85" y="1279.73" font-size="12.9" textLength="16.94" lengthAdjust="spacingAndGlyphs">40</text>
<line x1="64.30" y1="1353.87" x2="70.50" y2="1353.87" stroke="#3c3c3c" stroke-width="1.0"/>
<text x="40.41" y="1358.37" font-size="12.9" textLength="17.40" lengthAdjust="spacingAndGlyphs">20</text>
<line x1="64.30" y1="1432.50" x2="70.50" y2="1432.50" stroke="#3c3c3c" stroke-width="1.0"/>
<text x="48.87" y="1437.00" font-size="12.9" textLength="8.96" lengthAdjust="spacingAndGlyphs">0</text>
<line x1="123.30" y1="1443.50" x2="123.30" y2="1449.90" stroke="#3c3c3c" stroke-width="1.0"/>
<text x="96.35" y="1466.60" font-size="12.9" textLength="52.72" lengthAdjust="spacingAndGlyphs">Indole-0</text>
<line x1="210.40" y1="1443.50" x2="210.40" y2="1449.90" stroke="#3c3c3c" stroke-width="1.0"/>
<text x="173.47" y="1466.60" font-size="12.9" textLength="72.34" lengthAdjust="spacingAndGlyphs">Indole-0.05</text>
<line x1="297.80" y1="1443.50" x2="297.80" y2="1449.90" stroke="#3c3c3c" stroke-width="1.0"/>
<text x="264.90" y="1466.60" font-size="12.9" textLength="64.48" lengthAdjust="spacingAndGlyphs">Trp-0.0114</text>
<line x1="385.20" y1="1443.50" x2="385.20" y2="1449.90" stroke="#3c3c3c" stroke-width="1.0"/>
<text x="358.97" y="1466.60" font-size="12.9" textLength="51.99" lengthAdjust="spacingAndGlyphs">Indole-0</text>
<line x1="472.40" y1="1443.50" x2="472.40" y2="1449.90" stroke="#3c3c3c" stroke-width="1.0"/>
<text x="435.97" y="1466.60" font-size="12.9" textLength="72.03" lengthAdjust="spacingAndGlyphs">Indole-0.05</text>
<line x1="559.60" y1="1443.50" x2="559.60" y2="1449.90" stroke="#3c3c3c" stroke-width="1.0"/>
<text x="528.11" y="1466.60" font-size="12.9" textLength="63.07" lengthAdjust="spacingAndGlyphs">Trp-0.0114</text>
<text x="171.30" y="1494.50" font-size="16" textLength="339.51" lengthAdjust="spacingAndGlyphs">Indole and Trp concentration in water (mg ml<tspan font-size="10" dy="-6.90">−1</tspan><tspan dy="6.90">)</tspan></text>
<text transform="translate(23.90,0) rotate(-90)" x="-1435.26" y="0" font-size="16" textLength="237.96" lengthAdjust="spacingAndGlyphs">Trp level in haemolymph (ng µl<tspan font-size="10" dy="-6.90">−1</tspan><tspan dy="6.90">)</tspan></text>
<g stroke="#009E73" fill="none" stroke-opacity="0.82">
<line x1="123.30" y1="1258.60" x2="123.30" y2="1278.30" stroke-width="1.0"/>
<line x1="123.30" y1="1321.00" x2="123.30" y2="1348.50" stroke-width="1.0"/>
<rect x="101.10" y="1278.30" width="44.00" height="42.70" stroke-width="1.0"/>
</g>
<line x1="101.10" y1="1292.90" x2="145.10" y2="1292.90" stroke="#009E73" stroke-width="2.2"/>
<circle cx="123.00" cy="1258.60" r="2.35" fill="#009E73" stroke="#1a1a1a" stroke-width="0.8"/>
<circle cx="127.20" cy="1274.30" r="2.35" fill="#009E73" stroke="#1a1a1a" stroke-width="0.8"/>
<circle cx="123.00" cy="1276.10" r="2.35" fill="#009E73" stroke="#1a1a1a" stroke-width="0.8"/>
<circle cx="126.10" cy="1280.00" r="2.35" fill="#009E73" stroke="#1a1a1a" stroke-width="0.8"/>
<circle cx="123.00" cy="1282.40" r="2.35" fill="#009E73" stroke="#1a1a1a" stroke-width="0.8"/>
<circle cx="123.00" cy="1292.90" r="2.35" fill="#009E73" stroke="#1a1a1a" stroke-width="0.8"/>
<circle cx="123.00" cy="1314.80" r="2.35" fill="#009E73" stroke="#1a1a1a" stroke-width="0.8"/>
<circle cx="123.00" cy="1317.90" r="2.35" fill="#009E73" stroke="#1a1a1a" stroke-width="0.8"/>
<circle cx="124.80" cy="1324.30" r="2.35" fill="#009E73" stroke="#1a1a1a" stroke-width="0.8"/>
<circle cx="122.80" cy="1327.10" r="2.35" fill="#009E73" stroke="#1a1a1a" stroke-width="0.8"/>
<circle cx="123.00" cy="1348.50" r="2.35" fill="#009E73" stroke="#1a1a1a" stroke-width="0.8"/>
<g stroke="#D55E00" fill="none" stroke-opacity="0.82">
<line x1="210.40" y1="1342.30" x2="210.40" y2="1359.10" stroke-width="1.0"/>
<rect x="188.30" y="1313.40" width="44.20" height="28.90" stroke-width="1.0"/>
</g>
<line x1="188.30" y1="1318.50" x2="232.50" y2="1318.50" stroke="#D55E00" stroke-width="2.2"/>
<circle cx="210.40" cy="1225.40" r="2.35" fill="#D55E00" stroke="#1a1a1a" stroke-width="0.8"/>
<circle cx="210.40" cy="1257.40" r="2.35" fill="#D55E00" stroke="#1a1a1a" stroke-width="0.8"/>
<circle cx="210.40" cy="1313.00" r="2.35" fill="#D55E00" stroke="#1a1a1a" stroke-width="0.8"/>
<circle cx="214.20" cy="1316.20" r="2.35" fill="#D55E00" stroke="#1a1a1a" stroke-width="0.8"/>
<circle cx="210.40" cy="1318.30" r="2.35" fill="#D55E00" stroke="#1a1a1a" stroke-width="0.8"/>
<circle cx="210.40" cy="1322.80" r="2.35" fill="#D55E00" stroke="#1a1a1a" stroke-width="0.8"/>
<circle cx="210.40" cy="1342.50" r="2.35" fill="#D55E00" stroke="#1a1a1a" stroke-width="0.8"/>
<circle cx="214.70" cy="1357.40" r="2.35" fill="#D55E00" stroke="#1a1a1a" stroke-width="0.8"/>
<circle cx="210.40" cy="1359.10" r="2.35" fill="#D55E00" stroke="#1a1a1a" stroke-width="0.8"/>
<g stroke="#CC79A7" fill="none" stroke-opacity="0.82">
<line x1="297.80" y1="1239.70" x2="297.80" y2="1253.30" stroke-width="1.0"/>
<line x1="297.80" y1="1319.40" x2="297.80" y2="1331.30" stroke-width="1.0"/>
<rect x="275.90" y="1253.30" width="43.70" height="66.10" stroke-width="1.0"/>
</g>
<line x1="275.90" y1="1282.60" x2="319.60" y2="1282.60" stroke="#CC79A7" stroke-width="2.2"/>
<circle cx="297.70" cy="1234.00" r="2.35" fill="#CC79A7" stroke="#1a1a1a" stroke-width="0.8"/>
<circle cx="303.00" cy="1238.10" r="2.35" fill="#CC79A7" stroke="#1a1a1a" stroke-width="0.8"/>
<circle cx="297.70" cy="1239.70" r="2.35" fill="#CC79A7" stroke="#1a1a1a" stroke-width="0.8"/>
<circle cx="297.70" cy="1257.70" r="2.35" fill="#CC79A7" stroke="#1a1a1a" stroke-width="0.8"/>
<circle cx="297.70" cy="1269.10" r="2.35" fill="#CC79A7" stroke="#1a1a1a" stroke-width="0.8"/>
<circle cx="297.70" cy="1279.30" r="2.35" fill="#CC79A7" stroke="#1a1a1a" stroke-width="0.8"/>
<circle cx="297.70" cy="1286.50" r="2.35" fill="#CC79A7" stroke="#1a1a1a" stroke-width="0.8"/>
<circle cx="303.90" cy="1285.70" r="2.35" fill="#CC79A7" stroke="#1a1a1a" stroke-width="0.8"/>
<circle cx="297.70" cy="1318.50" r="2.35" fill="#CC79A7" stroke="#1a1a1a" stroke-width="0.8"/>
<circle cx="297.70" cy="1323.70" r="2.35" fill="#CC79A7" stroke="#1a1a1a" stroke-width="0.8"/>
<circle cx="303.90" cy="1323.20" r="2.35" fill="#CC79A7" stroke="#1a1a1a" stroke-width="0.8"/>
<circle cx="297.70" cy="1331.30" r="2.35" fill="#CC79A7" stroke="#1a1a1a" stroke-width="0.8"/>
<g stroke="#56B4E9" fill="none" stroke-opacity="0.82">
<rect x="362.90" y="1429.00" width="44.70" height="1.80" stroke-width="1.0"/>
</g>
<line x1="362.90" y1="1429.90" x2="407.60" y2="1429.90" stroke="#56B4E9" stroke-width="2.2"/>
<circle cx="366.80" cy="1429.80" r="2.35" fill="#56B4E9" stroke="#1a1a1a" stroke-width="0.8"/>
<circle cx="372.50" cy="1430.80" r="2.35" fill="#56B4E9" stroke="#1a1a1a" stroke-width="0.8"/>
<circle cx="378.60" cy="1428.20" r="2.35" fill="#56B4E9" stroke="#1a1a1a" stroke-width="0.8"/>
<circle cx="378.60" cy="1431.10" r="2.35" fill="#56B4E9" stroke="#1a1a1a" stroke-width="0.8"/>
<circle cx="385.00" cy="1420.10" r="2.35" fill="#56B4E9" stroke="#1a1a1a" stroke-width="0.8"/>
<circle cx="385.00" cy="1425.00" r="2.35" fill="#56B4E9" stroke="#1a1a1a" stroke-width="0.8"/>
<circle cx="385.00" cy="1428.50" r="2.35" fill="#56B4E9" stroke="#1a1a1a" stroke-width="0.8"/>
<circle cx="385.00" cy="1432.00" r="2.35" fill="#56B4E9" stroke="#1a1a1a" stroke-width="0.8"/>
<circle cx="391.10" cy="1428.20" r="2.35" fill="#56B4E9" stroke="#1a1a1a" stroke-width="0.8"/>
<circle cx="391.10" cy="1431.10" r="2.35" fill="#56B4E9" stroke="#1a1a1a" stroke-width="0.8"/>
<circle cx="397.20" cy="1430.20" r="2.35" fill="#56B4E9" stroke="#1a1a1a" stroke-width="0.8"/>
<circle cx="403.20" cy="1429.30" r="2.35" fill="#56B4E9" stroke="#1a1a1a" stroke-width="0.8"/>
<g stroke="#0072B2" fill="none" stroke-opacity="0.82">
<rect x="450.30" y="1423.50" width="44.40" height="7.60" stroke-width="1.0"/>
</g>
<line x1="450.30" y1="1430.00" x2="494.70" y2="1430.00" stroke="#0072B2" stroke-width="2.2"/>
<circle cx="472.40" cy="1419.40" r="2.35" fill="#0072B2" stroke="#1a1a1a" stroke-width="0.8"/>
<circle cx="472.40" cy="1422.90" r="2.35" fill="#0072B2" stroke="#1a1a1a" stroke-width="0.8"/>
<circle cx="478.60" cy="1422.60" r="2.35" fill="#0072B2" stroke="#1a1a1a" stroke-width="0.8"/>
<circle cx="461.10" cy="1429.60" r="2.35" fill="#0072B2" stroke="#1a1a1a" stroke-width="0.8"/>
<circle cx="466.30" cy="1431.40" r="2.35" fill="#0072B2" stroke="#1a1a1a" stroke-width="0.8"/>
<circle cx="472.40" cy="1428.50" r="2.35" fill="#0072B2" stroke="#1a1a1a" stroke-width="0.8"/>
<circle cx="472.40" cy="1432.60" r="2.35" fill="#0072B2" stroke="#1a1a1a" stroke-width="0.8"/>
<circle cx="478.60" cy="1431.70" r="2.35" fill="#0072B2" stroke="#1a1a1a" stroke-width="0.8"/>
<circle cx="484.20" cy="1430.20" r="2.35" fill="#0072B2" stroke="#1a1a1a" stroke-width="0.8"/>
<g stroke="#E69F00" fill="none" stroke-opacity="0.82">
<line x1="559.60" y1="1397.90" x2="559.60" y2="1411.20" stroke-width="1.0"/>
<line x1="559.60" y1="1424.30" x2="559.60" y2="1430.50" stroke-width="1.0"/>
<rect x="537.80" y="1411.20" width="43.80" height="13.10" stroke-width="1.0"/>
</g>
<line x1="537.80" y1="1415.90" x2="581.60" y2="1415.90" stroke="#E69F00" stroke-width="2.2"/>
<circle cx="559.70" cy="1394.80" r="2.35" fill="#E69F00" stroke="#1a1a1a" stroke-width="0.8"/>
<circle cx="559.70" cy="1397.90" r="2.35" fill="#E69F00" stroke="#1a1a1a" stroke-width="0.8"/>
<circle cx="558.30" cy="1410.30" r="2.35" fill="#E69F00" stroke="#1a1a1a" stroke-width="0.8"/>
<circle cx="563.90" cy="1411.90" r="2.35" fill="#E69F00" stroke="#1a1a1a" stroke-width="0.8"/>
<circle cx="558.80" cy="1413.50" r="2.35" fill="#E69F00" stroke="#1a1a1a" stroke-width="0.8"/>
<circle cx="562.30" cy="1416.10" r="2.35" fill="#E69F00" stroke="#1a1a1a" stroke-width="0.8"/>
<circle cx="559.70" cy="1418.70" r="2.35" fill="#E69F00" stroke="#1a1a1a" stroke-width="0.8"/>
<circle cx="553.30" cy="1424.30" r="2.35" fill="#E69F00" stroke="#1a1a1a" stroke-width="0.8"/>
<circle cx="559.70" cy="1424.90" r="2.35" fill="#E69F00" stroke="#1a1a1a" stroke-width="0.8"/>
<circle cx="566.20" cy="1424.30" r="2.35" fill="#E69F00" stroke="#1a1a1a" stroke-width="0.8"/>
<circle cx="559.70" cy="1430.50" r="2.35" fill="#E69F00" stroke="#1a1a1a" stroke-width="0.8"/>
</svg>
</body></html>
